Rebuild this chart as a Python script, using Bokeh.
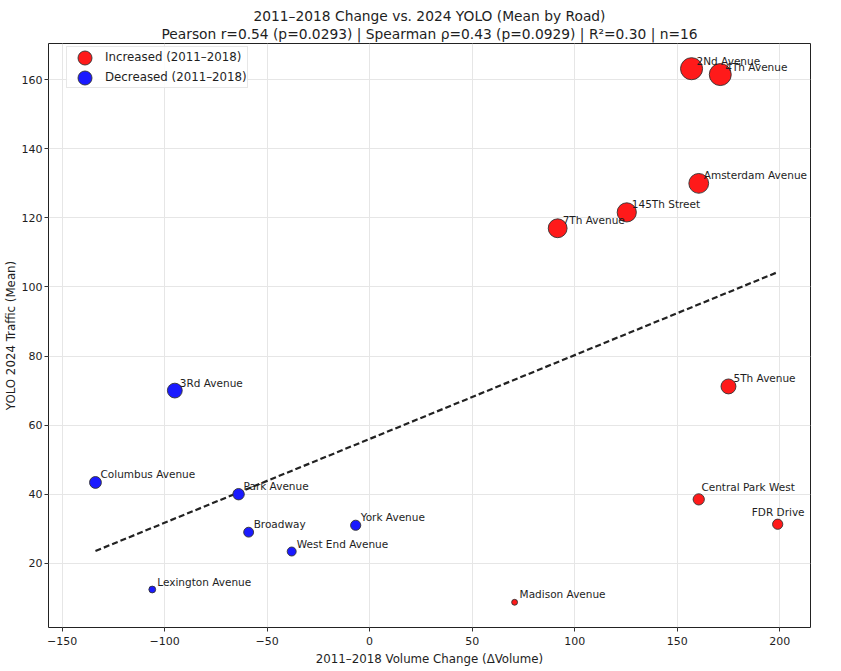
import numpy as np
from bokeh.plotting import figure
from bokeh.models import ColumnDataSource, Title, Legend, LegendItem, Range1d
from bokeh.core.properties import value
from bokeh.embed import file_html
from bokeh.resources import INLINE

roads = ["2Nd Avenue", "4Th Avenue", "Amsterdam Avenue", "145Th Street", "7Th Avenue",
         "5Th Avenue", "Central Park West", "FDR Drive", "Madison Avenue",
         "3Rd Avenue", "Columbus Avenue", "Park Avenue", "Broadway", "West End Avenue",
         "York Avenue", "Lexington Avenue"]
delta = [157.0, 171.0, 160.5, 125.4, 91.7, 175.0, 160.5, 199.0, 70.7,
         -95.0, -133.7, -63.9, -59.0, -38.0, -6.8, -106.0]
yolo = [163.2, 161.5, 130.0, 121.6, 117.0, 71.2, 38.5, 31.3, 8.7,
        70.0, 43.4, 40.0, 29.0, 23.4, 31.0, 12.4]

title_main = "2011\u20132018 Change vs. 2024 YOLO (Mean by Road)"
title_sub = "Pearson r=0.54 (p=0.0293) | Spearman \u03c1=0.43 (p=0.0929) | R\u00b2=0.30 | n=16"
x_label = "2011\u20132018 Volume Change (\u0394Volume)"
y_label = "YOLO 2024 Traffic (Mean)"
legend_inc = "Increased (2011\u20132018)"
legend_dec = "Decreased (2011\u20132018)"
x_ticks = [-150, -100, -50, 0, 50, 100, 150, 200]
y_ticks = [20, 40, 60, 80, 100, 120, 140, 160]

FONT = "DejaVu Sans"
TXT = "#1e1e1e"
RED = "#ff1a1a"
BLUE = "#1a1aff"
EDGE = "#333333"
X0, X1 = -156.6, 215.0
FW, FH = 762, 584
LABEL_PX = 10.5

x = np.array(delta)
y = np.array(yolo)
sizes = 1.65 * np.sqrt(y) + 1.0
colors = [RED if d > 0 else BLUE for d in delta]

# label offsets: right/up of the point; labels that would run past the frame's
# right edge are moved left and up so that they stay fully visible
xoff, yoff = [], []
for xi, nm, sz in zip(x, roads, sizes):
    sx = (xi - X0) / (X1 - X0) * FW
    w = len(nm) * LABEL_PX * 0.6
    if sx + 5 + w > FW - 2:
        xoff.append(FW - 2 - w - sx)
        yoff.append(-sz / 2 - 1)
    else:
        xoff.append(5)
        yoff.append(-2)

src = ColumnDataSource(dict(x=x, y=y, name=roads, size=sizes, color=colors,
                            xoff=xoff, yoff=yoff))

p = figure(width=831, height=661, output_backend="svg", toolbar_location=None,
           x_range=Range1d(X0, X1), y_range=Range1d(1.4, 170.5),
           frame_width=FW, frame_height=FH,
           min_border_left=5, min_border_right=23, min_border_top=5, min_border_bottom=5)
p.background_fill_color = "white"
p.border_fill_color = "white"
p.outline_line_color = "#222222"
p.outline_line_width = 1

p.title.visible = False
p.add_layout(Title(text=title_sub, align="center", text_font=FONT, text_font_size="13.8px",
                   text_font_style="normal", text_color=TXT, standoff=3), "above")
p.add_layout(Title(text=title_main, align="center", text_font=FONT, text_font_size="13.8px",
                   text_font_style="normal", text_color=TXT, standoff=-3), "above")
# small spacer above the titles
p.add_layout(Title(text=" ", text_font_size="4px", standoff=0), "above")

for ax in (p.xaxis[0], p.yaxis[0]):
    ax.axis_line_color = None
    ax.major_tick_in = 0
    ax.major_tick_out = 4
    ax.minor_tick_line_color = None
    ax.major_tick_line_color = "#333333"
    ax.major_label_text_font = FONT
    ax.major_label_text_font_size = "11px"
    ax.major_label_text_color = TXT
    ax.axis_label_text_font = FONT
    ax.axis_label_text_font_size = "11.8px"
    ax.axis_label_text_font_style = "normal"
    ax.axis_label_text_color = TXT
p.xaxis.ticker = x_ticks
p.yaxis.ticker = y_ticks
p.xaxis.major_label_overrides = {t: (("\u2212%d" % abs(t)) if t < 0 else "%d" % t) for t in x_ticks}
p.xaxis.axis_label = x_label
p.yaxis.axis_label = y_label
p.xaxis.axis_label_standoff = 4
p.yaxis.axis_label_standoff = 1
p.yaxis.major_label_standoff = 2
p.xaxis.major_label_standoff = 5

p.grid.grid_line_color = "#e6e6e6"
p.grid.grid_line_width = 1
p.xgrid.ticker = x_ticks
p.ygrid.ticker = y_ticks

# regression line
slope, intercept = np.polyfit(x, y, 1)
xf = np.array([x.min(), x.max()])
p.line(xf, slope * xf + intercept, line_color="#222222", line_width=2.2, line_dash="6 3")

p.scatter("x", "y", size="size", fill_color="color", line_color=EDGE,
          line_width=0.9, source=src)

p.text("x", "y", text="name", source=src, x_offset="xoff", y_offset="yoff",
       text_font=value(FONT), text_font_size="%gpx" % LABEL_PX, text_color=TXT,
       text_baseline="bottom", text_align="left")

# legend: box + texts (glyphs hidden), then large circle markers on top
h_inc = p.scatter([np.nan], [np.nan], size=8, fill_alpha=0, line_alpha=0)
h_dec = p.scatter([np.nan], [np.nan], size=8, fill_alpha=0, line_alpha=0)
leg_box = Legend(items=[LegendItem(label=legend_inc, renderers=[h_inc]),
                        LegendItem(label=legend_dec, renderers=[h_dec])],
                 location=(18, 539))
leg_box.label_text_font = FONT
leg_box.label_text_font_size = "11.8px"
leg_box.label_text_color = TXT
leg_box.glyph_width = 37
leg_box.glyph_height = 20
leg_box.label_height = 20
leg_box.spacing = 0
leg_box.padding = 0
leg_box.margin = 0
leg_box.label_standoff = 1
leg_box.border_line_color = "#d0d0d0"
leg_box.background_fill_color = "white"
leg_box.background_fill_alpha = 0.85
p.add_layout(leg_box, "center")

r_inc = p.scatter([np.nan], [np.nan], size=14, fill_color=RED, line_color=EDGE, line_width=0.9)
r_dec = p.scatter([np.nan], [np.nan], size=14, fill_color=BLUE, line_color=EDGE, line_width=0.9)
for rend, loc in ((r_inc, (19, 552)), (r_dec, (19, 532))):
    lg = Legend(items=[LegendItem(label=" ", renderers=[rend])], location=loc)
    lg.glyph_width = 35
    lg.glyph_height = 35
    lg.label_height = 35
    lg.padding = 0
    lg.margin = 0
    lg.label_standoff = 0
    lg.label_text_font_size = "4px"
    lg.border_line_color = None
    lg.background_fill_color = None
    lg.background_fill_alpha = 0
    p.add_layout(lg, "center")

open("out.html", "w").write(file_html(p, INLINE))
